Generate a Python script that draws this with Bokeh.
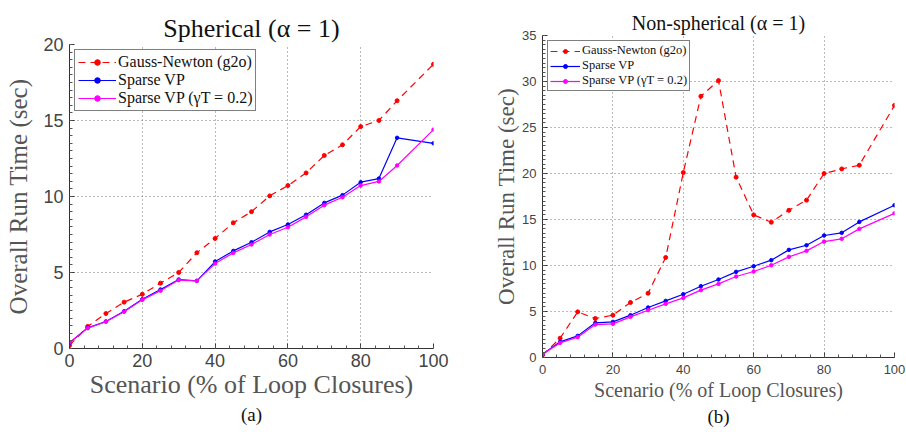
from bokeh.plotting import figure
from bokeh.layouts import row, column
from bokeh.models import Range1d, FixedTicker, Legend, LegendItem, Title
from bokeh.embed import file_html
from bokeh.resources import INLINE

# ---- data ----
scenario = [0, 5, 10, 15, 20, 25, 30, 35, 40, 45, 50, 55, 60, 65, 70, 75, 80, 85, 90, 100]

sph_gauss_newton = [0.2, 1.45, 2.3, 3.05, 3.57, 4.3, 5.0, 6.3, 7.24, 8.27, 9.0, 10.04, 10.72,
                    11.55, 12.7, 13.4, 14.6, 15.0, 16.3, 18.7]
sph_sparse_vp = [0.37, 1.36, 1.78, 2.45, 3.24, 3.88, 4.54, 4.45, 5.72, 6.42, 6.99, 7.67, 8.16,
                 8.8, 9.58, 10.09, 10.94, 11.18, 13.86, 13.5]
sph_sparse_vp_g = [0.4, 1.34, 1.76, 2.42, 3.2, 3.8, 4.5, 4.45, 5.59, 6.29, 6.84, 7.5, 7.98,
                   8.66, 9.43, 9.95, 10.72, 10.99, 12.04, 14.4]

nsph_gauss_newton = [0.25, 2.1, 4.96, 4.24, 4.6, 5.98, 6.99, 10.87, 20.1, 28.4, 30.1, 19.6, 15.5,
                     14.7, 16.0, 17.1, 20.0, 20.5, 20.9, 27.4]
nsph_sparse_vp = [0.36, 1.7, 2.35, 3.77, 3.87, 4.6, 5.43, 6.15, 6.88, 7.75, 8.48, 9.31, 9.92,
                  10.58, 11.7, 12.2, 13.26, 13.55, 14.74, 16.55]
nsph_sparse_vp_g = [0.36, 1.59, 2.21, 3.58, 3.66, 4.42, 5.14, 5.83, 6.48, 7.32, 8.0, 8.8, 9.35,
                    10.03, 10.94, 11.59, 12.6, 12.9, 13.98, 15.67]

x_ticks = [0, 20, 40, 60, 80, 100]
y_ticks_left = [0, 5, 10, 15, 20]
y_ticks_right = [0, 5, 10, 15, 20, 25, 30, 35]

series_labels = ["Gauss-Newton (g2o)", "Sparse VP", "Sparse VP (\u03b3T = 0.2)"]
series_colors = ["#ff0000", "#0000ff", "#ff00ff"]

SERIF = "Liberation Serif"
SANS = "Liberation Sans"


def make_plot(w, h, borders, y_max, y_ticks, ys, title, sub, cfg):
    lb, rb, tb, bb = borders
    p = figure(width=w, height=h, output_backend="svg", toolbar_location=None,
               x_range=Range1d(0, 100), y_range=Range1d(0, y_max),
               min_border_left=lb, min_border_right=rb, min_border_top=tb, min_border_bottom=bb)
    p.outline_line_color = None
    p.background_fill_color = "white"
    p.border_fill_color = "white"

    p.title.text = title
    p.title.align = "center"
    p.title.vertical_align = "top"
    p.title.text_font = SERIF
    p.title.text_font_style = "normal"
    p.title.text_font_size = f"{cfg['title']}px"
    p.title.text_color = "#111111"
    p.title.standoff = 0

    p.xaxis.ticker = FixedTicker(ticks=x_ticks, minor_ticks=list(range(0, 101, 4)))
    p.yaxis.ticker = FixedTicker(ticks=y_ticks,
                                 minor_ticks=[i * 0.5 for i in range(0, int(y_max * 2) + 1)])
    for ax in (p.xaxis, p.yaxis):
        ax.axis_line_color = "#333333"
        ax.major_tick_in = 5
        ax.major_tick_out = 0
        ax.minor_tick_in = 3
        ax.minor_tick_out = 0
        ax.major_tick_line_color = "#333333"
        ax.minor_tick_line_color = "#555555"
        ax.major_label_text_font = SANS
        ax.major_label_text_font_size = f"{cfg['tick']}px"
        ax.major_label_text_color = "#444444"
        ax.axis_label_text_font = SERIF
        ax.axis_label_text_font_style = "normal"
        ax.axis_label_text_color = "#555555"
    p.xaxis.axis_label = "Scenario (% of Loop Closures)"
    p.yaxis.axis_label = "Overall Run Time (sec)"
    p.xaxis.axis_label_text_font_size = f"{cfg['xlab']}px"
    p.yaxis.axis_label_text_font_size = f"{cfg['ylab']}px"
    p.xaxis.major_label_standoff = cfg["xtick_standoff"]
    p.yaxis.major_label_standoff = 6
    p.xaxis.axis_label_standoff = cfg["xlab_standoff"]
    p.yaxis.axis_label_standoff = cfg["ylab_standoff"]

    p.grid.grid_line_color = "#777777"
    p.grid.grid_line_dash = "1 3"
    p.grid.grid_line_width = 1

    items = []
    for i, (yv, lab, col) in enumerate(zip(ys, series_labels, series_colors)):
        dash = "7 5" if i == 0 else "solid"
        ln = p.line(scenario, yv, line_color=col, line_width=1.2, line_dash=dash)
        sc = p.scatter(scenario, yv, size=4 if i == 0 else 3.5, marker="circle",
                       fill_color=col, line_color=col)
        items.append(LegendItem(label=lab, renderers=[ln, sc]))

    leg = Legend(items=items, location="top_left")
    leg.label_text_font = SERIF
    leg.label_text_font_size = f"{cfg['leg']}px"
    leg.label_text_color = "#111111"
    leg.border_line_color = "black"
    leg.border_line_width = 1.5
    leg.background_fill_alpha = 1
    leg.spacing = 0
    leg.padding = cfg["leg_pad"]
    leg.margin = 5
    leg.label_standoff = 2
    leg.glyph_width = cfg["glyph_w"]
    leg.label_height = cfg["row_h"]
    leg.glyph_height = cfg["row_h"]
    p.add_layout(leg)

    st = Title(text=sub, align="center", text_font=SERIF, text_font_style="normal",
               text_font_size="19px", text_color="#111111", standoff=0)
    p.add_layout(st, "below")
    return p


cfg1 = dict(title=26, tick=18, xlab=26, ylab=25, ylab_standoff=8,
            xtick_standoff=5, xlab_standoff=0,
            leg=16, leg_pad=3, glyph_w=38, row_h=14)
cfg2 = dict(title=20, tick=13, xlab=20, ylab=23, ylab_standoff=0,
            xtick_standoff=7, xlab_standoff=2,
            leg=12.5, leg_pad=2, glyph_w=30, row_h=10)

p1 = make_plot(470, 432, (69, 37, 44, 84), 20, y_ticks_left,
               [sph_gauss_newton, sph_sparse_vp, sph_sparse_vp_g],
               "Spherical (\u03b1 = 1)", "(a)", cfg1)
p2 = make_plot(436, 432, (72, 12, 35, 75), 35, y_ticks_right,
               [nsph_gauss_newton, nsph_sparse_vp, nsph_sparse_vp_g],
               "Non-spherical (\u03b1 = 1)", "(b)", cfg2)

layout = row(column(p1), column(p2))
open("out.html", "w").write(file_html(layout, INLINE))
